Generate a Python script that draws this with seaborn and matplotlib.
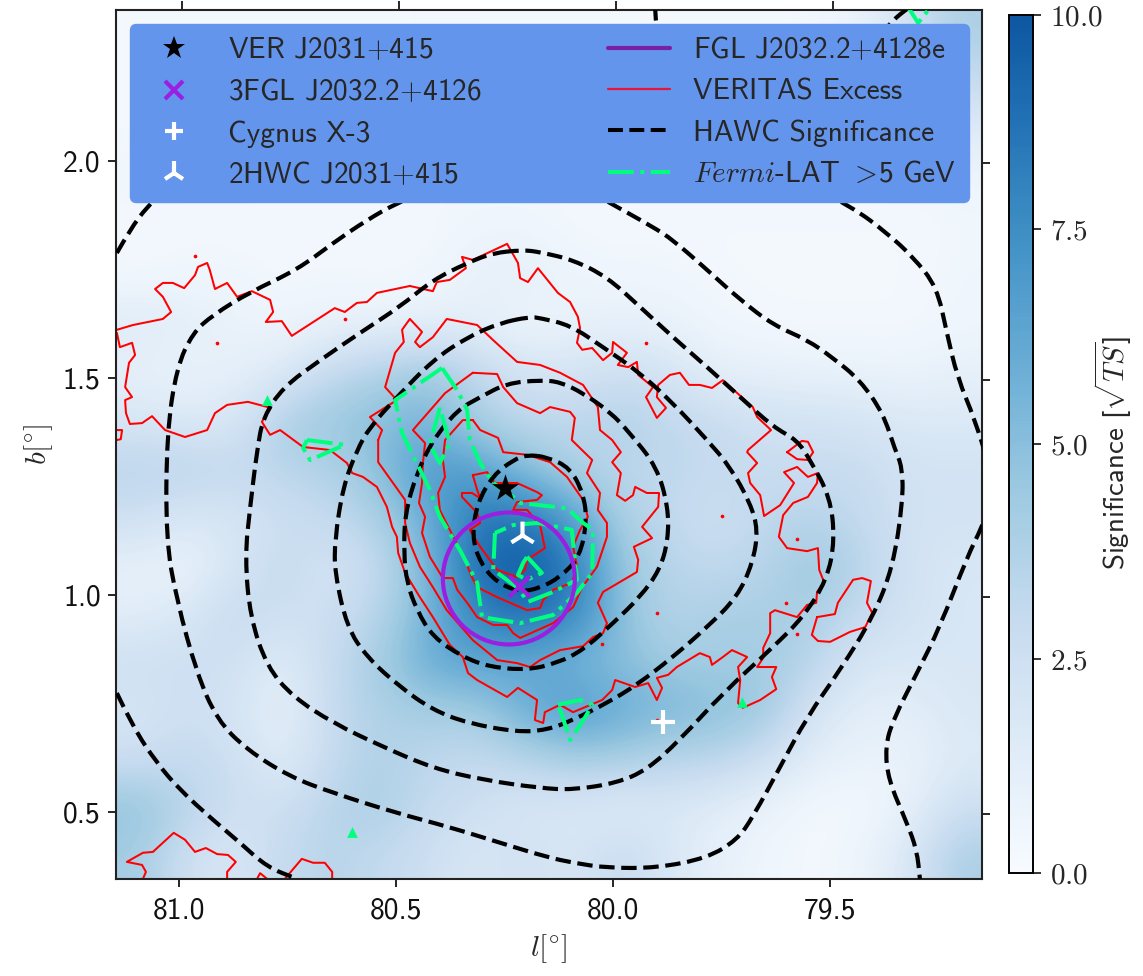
import numpy as np
import seaborn as sns
import matplotlib
matplotlib.use("Agg")
import matplotlib.pyplot as plt
from matplotlib.colors import ListedColormap
from matplotlib.lines import Line2D
from matplotlib.patches import Circle, PathPatch
from matplotlib.path import Path

# ---- significance map (rows from high b to low b, columns from high l to low l)
SIGNIFICANCE = [
 [.3,.3,.3,.3,.2,.2,.4,.3,.3,.2,.2,.3,.2,.2,.4,.8,2.5,4.0],
 [.2,.2,.2,.2,.2,.2,.3,.3,.2,.2,.2,.2,.2,.2,.3,.4,1.0,3.0],
 [.3,.3,.3,.3,.3,.3,.3,.3,.3,.3,.3,.3,.3,.3,.3,.3,.5,1.5],
 [.5,.5,.4,.4,.4,.4,.4,.4,.4,.4,.4,.4,.4,.4,.4,.4,.4,.6],
 [.3,.3,.3,.3,.3,.3,.3,.5,.5,.3,.3,.3,.3,.3,.3,.3,.3,.4],
 [.3,.5,.5,.3,.4,.3,.4,1.0,1.2,.6,.5,.5,.3,.3,.3,.3,.3,.5],
 [1.5,1.2,.8,.6,.8,.8,1.0,1.0,.5,.8,1.0,.8,.5,.3,.3,.3,.3,.5],
 [1.0,.8,1.0,1.5,3.0,3.8,4.5,3.2,2.0,2.0,2.5,2.0,1.0,1.0,.8,.8,.7,1.0],
 [1.8,1.5,1.8,4.0,4.5,5.0,5.5,4.0,3.2,3.2,3.8,3.2,2.8,2.2,2.2,2.0,1.6,1.6],
 [3.5,3.5,3.0,3.5,3.8,5.0,7.0,6.5,5.0,3.8,3.2,3.2,3.0,2.8,2.8,2.8,2.2,2.2],
 [2.5,1.8,2.0,2.5,3.0,4.0,6.0,8.5,8.5,6.5,4.0,3.0,2.5,3.2,3.5,3.0,2.2,2.2],
 [1.0,.6,2.0,3.0,2.0,3.0,5.5,9.0,10.0,8.5,4.5,3.5,3.0,3.5,4.5,3.5,2.2,1.8],
 [1.2,1.8,3.0,2.5,2.5,3.5,5.5,8.0,9.0,8.0,5.0,3.5,4.0,4.0,4.0,3.0,2.2,1.8],
 [2.5,2.5,2.5,1.2,3.0,4.2,6.0,6.5,6.0,5.5,5.0,4.2,4.2,4.2,3.5,1.8,1.8,1.8],
 [2.0,2.5,2.0,.9,3.0,3.8,4.2,4.2,6.0,7.0,6.0,5.5,5.0,4.5,2.0,1.2,1.2,1.8],
 [2.5,3.0,2.5,1.2,3.0,3.8,3.2,3.0,3.5,4.2,4.2,3.5,3.5,2.5,1.2,.8,.8,1.5],
 [4.8,3.5,2.5,2.5,3.5,4.0,3.0,2.5,1.8,1.8,1.2,1.8,1.2,.8,.3,.3,.9,2.5],
 [4.2,2.4,1.8,3.0,3.5,3.0,2.5,1.8,2.4,1.8,3.0,1.8,1.0,.5,.3,.6,1.8,4.0],
]

# ---- HAWC significance contours
HAWC_1_L = [80.198,80.152,80.099,80.069,80.060,80.076,80.122,80.168,80.214,80.267,80.306,80.325,80.313,80.276,80.230,80.198]
HAWC_1_B = [1.323,1.318,1.293,1.235,1.173,1.088,1.041,1.016,1.007,1.028,1.074,1.134,1.212,1.276,1.311,1.323]
HAWC_2_L = [80.168,80.122,80.069,80.007,79.961,79.899,79.873,79.873,79.892,79.938,80.000,80.069,80.129,80.198,80.283,80.346,80.415,80.452,80.475,80.482,80.479,80.452,80.415,80.359,80.306,80.244,80.168]
HAWC_2_B = [1.495,1.491,1.465,1.422,1.373,1.295,1.203,1.127,1.058,0.995,0.935,0.873,0.843,0.827,0.834,0.857,0.903,0.965,1.028,1.097,1.189,1.281,1.357,1.426,1.456,1.488,1.495]
HAWC_3_L = [80.191,80.260,80.336,80.415,80.498,80.560,80.590,80.622,80.641,80.641,80.613,80.567,80.491,80.415,80.336,80.221,80.152,80.092,80.014,79.945,79.862,79.783,79.714,79.678,79.666,79.684,79.730,79.783,79.862,79.938,80.023,80.099,80.168,80.191]
HAWC_3_B = [1.641,1.627,1.594,1.541,1.456,1.387,1.334,1.249,1.127,1.051,0.926,0.857,0.788,0.735,0.705,0.684,0.689,0.712,0.751,0.793,0.857,0.926,0.995,1.074,1.150,1.212,1.295,1.357,1.442,1.512,1.571,1.622,1.638,1.641]
HAWC_4_L = [80.207,80.277,80.336,80.415,80.491,80.583,80.675,80.760,80.806,80.820,80.836,80.848,80.836,80.797,80.737,80.645,80.530,80.415,80.300,80.168,80.092,79.991,79.922,79.846,79.747,79.631,79.562,79.507,79.489,79.500,79.546,79.576,79.631,79.707,79.783,79.862,79.938,80.014,80.092,80.168,80.207]
HAWC_4_B = [1.795,1.788,1.765,1.726,1.664,1.604,1.541,1.479,1.410,1.334,1.203,1.088,0.949,0.834,0.765,0.705,0.650,0.601,0.574,0.555,0.551,0.567,0.597,0.666,0.774,0.880,0.949,1.035,1.127,1.226,1.311,1.357,1.387,1.456,1.525,1.594,1.664,1.733,1.772,1.790,1.795]
HAWC_5_L = [80.214,80.376,80.498,80.567,80.645,80.728,80.836,80.922,80.968,81.005,81.028,81.030,81.005,80.959,80.912,80.843,80.744,80.645,80.507,80.376,80.260,80.152,80.092,80.014,79.899,79.783,79.714,79.678,79.615,79.553,79.477,79.401,79.355,79.332,79.334,79.350,79.378,79.431,79.493,79.553,79.631,79.707,79.783,79.862,79.908,80.007,80.099,80.214]
HAWC_5_B = [1.991,1.956,1.903,1.864,1.811,1.749,1.698,1.645,1.604,1.525,1.373,1.127,0.988,0.820,0.712,0.643,0.581,0.544,0.500,0.465,0.429,0.396,0.383,0.371,0.371,0.394,0.436,0.488,0.604,0.719,0.827,0.949,1.065,1.219,1.295,1.334,1.419,1.495,1.546,1.588,1.622,1.680,1.749,1.818,1.848,1.903,1.956,1.991]
HAWC_6A_L = [81.143,81.113,81.074,81.021]
HAWC_6A_B = [1.788,1.841,1.894,1.945]
HAWC_6B_L = [79.903,79.903,79.880,79.777,79.615,79.449,79.369,79.309,79.254,79.231,79.207,79.166,79.131,79.127,79.150,79.184,79.247,79.300,79.355,79.373,79.366,79.323,79.300,79.293]
HAWC_6B_B = [2.359,2.318,2.210,2.083,1.979,1.894,1.834,1.779,1.710,1.604,1.502,1.403,1.288,1.219,1.157,1.088,0.926,0.820,0.712,0.650,0.574,0.475,0.412,0.346]
HAWC_6C_L = [81.143,81.106,81.051,80.998,80.922,80.859,80.797,80.728]
HAWC_6C_B = [0.774,0.696,0.613,0.551,0.482,0.429,0.373,0.346]
HAWC_6D_L = [79.385,79.355,79.323]
HAWC_6D_B = [2.290,2.325,2.350]

# ---- VERITAS excess contours
VER_1_L = [81.143,81.106,81.037,81.018,81.037,81.055,81.037,81.014,80.988,80.963,80.956,80.935,80.929,80.917,80.889,80.866,80.832,80.790,80.783,80.800,80.763,80.740,80.641,80.618,80.590,80.567,80.544,80.468,80.415,80.406,80.376,80.339,80.348,80.323,80.244,80.219,80.214,80.196,80.173,80.127,80.099,80.081,80.076,80.083,80.071,80.048,80.023,80.002,80.000,79.968,79.989,79.965,79.945,79.942,79.908,79.924,79.899,79.878,79.899,79.896,79.869,79.846,79.825,79.800,79.772,79.747,79.678,79.668,79.636,79.689,79.691,79.668,79.689,79.684,79.661,79.652,79.615,79.583,79.606,79.576,79.551,79.528,79.530,79.551,79.585,79.608,79.618,79.599,79.553,79.528,79.525,79.514,79.530,79.532,79.553,79.576,79.627,79.638,79.638,79.654,79.654,79.668,79.624,79.634,79.624,79.661,79.701,79.712,79.707,79.712,79.691,79.726,79.747,79.772,79.777,79.800,79.853,79.873,79.899,79.887,79.899,79.919,79.949,79.995,80.002,80.025,80.092,80.122,80.157,80.161,80.180,80.175,80.219,80.244,80.313,80.334,80.346,80.376,80.415,80.445,80.479,80.495,80.498,80.509,80.521,80.544,80.576,80.601,80.613,80.652,80.714,80.767,80.790,80.809,80.788,80.841,80.889,80.917,80.935,80.986,81.032,81.062,81.085,81.113,81.122,81.124,81.108,81.124,81.115,81.101,81.108,81.136,81.143]
VER_1_B = [1.611,1.622,1.636,1.652,1.687,1.705,1.719,1.719,1.707,1.737,1.756,1.765,1.749,1.705,1.719,1.687,1.700,1.680,1.652,1.629,1.631,1.597,1.661,1.652,1.673,1.675,1.696,1.712,1.700,1.721,1.726,1.753,1.779,1.772,1.809,1.765,1.730,1.721,1.753,1.696,1.675,1.641,1.615,1.581,1.565,1.569,1.541,1.558,1.583,1.558,1.530,1.525,1.537,1.507,1.479,1.456,1.408,1.431,1.456,1.484,1.507,1.512,1.484,1.484,1.477,1.495,1.433,1.410,1.380,1.334,1.329,1.304,1.281,1.258,1.230,1.182,1.207,1.258,1.283,1.295,1.272,1.281,1.258,1.226,1.212,1.184,1.134,1.108,1.101,1.108,1.058,1.030,1.007,0.982,0.977,0.949,0.965,0.958,0.912,0.878,0.855,0.834,0.834,0.811,0.783,0.758,0.740,0.751,0.804,0.834,0.857,0.873,0.857,0.839,0.857,0.866,0.834,0.816,0.809,0.786,0.758,0.797,0.788,0.804,0.781,0.758,0.730,0.747,0.730,0.705,0.712,0.758,0.786,0.765,0.804,0.820,0.857,0.885,0.949,0.995,1.051,1.097,1.134,1.157,1.203,1.249,1.272,1.281,1.304,1.334,1.341,1.380,1.369,1.399,1.431,1.445,1.438,1.419,1.380,1.364,1.380,1.412,1.396,1.394,1.419,1.449,1.456,1.479,1.535,1.553,1.581,1.571,1.604]
VER_2_L = [80.541,80.541,80.479,80.479,80.468,80.445,80.415,80.383,80.323,80.267,80.221,80.191,80.168,80.122,80.069,80.046,80.023,80.014,80.035,80.023,79.945,79.942,79.952,79.910,79.933,79.896,79.894,79.922,79.949,79.954,79.972,79.991,79.982,80.002,79.982,80.002,80.030,80.035,80.069,80.122,80.168,80.221,80.277,80.313,80.383,80.415,80.445,80.456,80.440,80.468,80.486,80.482,80.502,80.525,80.498,80.560,80.532,80.541]
VER_2_B = [1.357,1.306,1.219,1.166,1.120,1.065,1.018,0.965,0.896,0.850,0.843,0.834,0.850,0.873,0.882,0.903,0.912,0.935,0.982,1.007,1.053,1.081,1.111,1.131,1.157,1.203,1.235,1.235,1.249,1.230,1.217,1.230,1.281,1.306,1.329,1.357,1.380,1.433,1.484,1.512,1.530,1.537,1.588,1.622,1.636,1.594,1.571,1.583,1.606,1.636,1.611,1.583,1.558,1.479,1.449,1.410,1.380,1.357]
VER_3_L = [80.323,80.267,80.253,80.221,80.168,80.145,80.099,80.088,80.095,80.048,80.060,80.030,80.035,80.014,80.014,80.037,80.071,80.092,80.138,80.214,80.230,80.244,80.276,80.313,80.336,80.359,80.369,80.392,80.422,80.440,80.433,80.447,80.440,80.438,80.433,80.461,80.387,80.323]
VER_3_B = [1.512,1.509,1.479,1.442,1.419,1.433,1.422,1.408,1.357,1.311,1.281,1.235,1.196,1.166,1.134,1.065,1.018,0.972,0.935,0.901,0.912,0.931,0.931,0.949,0.982,1.012,1.039,1.039,1.088,1.143,1.180,1.212,1.258,1.304,1.350,1.380,1.465,1.512]
VER_4_L = [80.323,80.306,80.265,80.253,80.198,80.145,80.106,80.069,80.058,80.076,80.092,80.083,80.095,80.138,80.161,80.168,80.198,80.237,80.267,80.313,80.325,80.348,80.376,80.399,80.403,80.387,80.392,80.387,80.346,80.323]
VER_4_B = [1.403,1.380,1.362,1.329,1.323,1.306,1.272,1.219,1.180,1.150,1.111,1.065,1.028,1.012,0.988,0.970,0.965,0.982,0.995,1.018,1.041,1.097,1.150,1.196,1.235,1.272,1.311,1.357,1.403,1.403]
VER_5_L = [80.323,80.290,80.272,80.221,80.175,80.164,80.175,80.221,80.230,80.198,80.168,80.157,80.198,80.203,80.221,80.267,80.306,80.330,80.306,80.313,80.348,80.348,80.325,80.306,80.313,80.323]
VER_5_B = [1.276,1.283,1.258,1.258,1.237,1.230,1.219,1.214,1.196,1.196,1.161,1.108,1.081,1.058,1.041,1.058,1.111,1.150,1.166,1.189,1.226,1.235,1.235,1.223,1.242,1.276]
VER_6_L = [79.530,79.489,79.482,79.447,79.426,79.406,79.415,79.403,79.419,79.454,79.500,79.528,79.542,79.530]
VER_6_B = [0.949,0.956,0.982,1.035,1.039,1.032,0.982,0.959,0.926,0.915,0.892,0.894,0.908,0.949]
VER_7_L = [79.599,79.565,79.551,79.539,79.551,79.576,79.599]
VER_7_B = [1.329,1.355,1.353,1.329,1.311,1.313,1.329]
VER_8_L = [81.083,81.076,81.085,81.120,81.083,81.060,81.012,80.986,80.963,80.938,80.912,80.887,80.869,80.889,80.889]
VER_8_B = [0.346,0.362,0.378,0.385,0.406,0.408,0.452,0.436,0.408,0.417,0.403,0.401,0.385,0.362,0.346]
VER_9_L = [80.820,80.813,80.797]
VER_9_B = [0.346,0.359,0.346]
VER_10_L = [80.756,80.717,80.691,80.664,80.647,80.647]
VER_10_B = [0.346,0.392,0.383,0.383,0.362,0.346]
VER_11_L = [81.143,81.131,81.134,81.143]
VER_11_B = [1.380,1.380,1.359,1.357]
VER_SPOT_L = [80.963,80.912,80.618,79.924,79.749,79.576,79.899,79.601,79.576,80.025,79.899]
VER_SPOT_B = [1.781,1.581,1.636,1.581,1.182,1.129,0.959,0.982,0.910,0.887,0.712]

# ---- Fermi-LAT contours
LAT_1_L = [80.394,80.502,80.486,80.452,80.422,80.399,80.353,80.313,80.302,80.214,80.138,80.083,80.048,80.046,80.069,80.106,80.214,80.230,80.276,80.306,80.330,80.336,80.359,80.394]
LAT_1_B = [1.523,1.449,1.373,1.304,1.242,1.180,1.104,1.028,0.949,0.935,0.954,1.005,1.051,1.150,1.166,1.200,1.212,1.226,1.258,1.304,1.357,1.426,1.472,1.523]
LAT_2_L = [80.272,80.276,80.219,80.196,80.138,80.083,80.088,80.095,80.129,80.175,80.230,80.272]
LAT_2_B = [1.143,1.058,1.016,0.984,1.007,1.035,1.081,1.150,1.157,1.166,1.161,1.143]
LAT_3_L = [80.198,80.164,80.198,80.219,80.207,80.198]
LAT_3_B = [1.088,1.051,1.035,1.046,1.074,1.088]
LAT_4_L = [80.399,80.422,80.399,80.376,80.399]
LAT_4_B = [1.431,1.346,1.304,1.350,1.431]
LAT_5_L = [80.705,80.618,80.698,80.714,80.705]
LAT_5_B = [1.357,1.346,1.311,1.339,1.357]
LAT_6_L = [80.127,80.076,80.048,80.065,80.099,80.118,80.127]
LAT_6_B = [0.747,0.758,0.747,0.717,0.666,0.724,0.747]
LAT_7_L = [79.323,79.297,79.265]
LAT_7_B = [2.359,2.318,2.359]
LAT_SPOT_L = [80.797,80.601,79.703]
LAT_SPOT_B = [1.449,0.454,0.753]

# ---- sources
VER_SRC = (80.249, 1.247)
FGL3_SRC = (80.217, 1.021)
CYG_SRC = (79.885, 0.707)
HWC_SRC = (80.210, 1.138)
FGL_EXT = (80.240, 1.038, 0.152)

LEGEND_LABELS = ["VER J2031${+}$415", "3FGL J2032.2${+}$4126", "Cygnus X-3", "2HWC J2031${+}$415",
                 "FGL J2032.2${+}$4128e", "VERITAS Excess", "HAWC Significance", r"$Fermi$-LAT ${>}\!$5 GeV"]
X_TICKS = [81.0, 80.5, 80.0, 79.5]
Y_TICKS = [0.5, 1.0, 1.5, 2.0]
CBAR_TICKS = [0.0, 2.5, 5.0, 7.5, 10.0]
XLIM = (81.145, 79.15)
YLIM = (0.3456, 2.349)

sns.set_style("white")
plt.rcParams["font.family"] = ["cmss10", "DejaVu Sans"]
plt.rcParams["mathtext.fontset"] = "cm"
plt.rcParams["axes.unicode_minus"] = False
plt.rcParams["axes.formatter.use_mathtext"] = False

W, H = 1143, 976
FS = 21.3
fig = plt.figure(figsize=(W / 100, H / 100), dpi=100)
ax = fig.add_axes([116 / W, 1 - 879 / H, (982 - 116) / W, (879 - 9.5) / H])
cmap = ListedColormap(plt.get_cmap("Blues")(np.linspace(0, 0.85, 256)))
im = ax.imshow(SIGNIFICANCE, extent=(XLIM[0], XLIM[1], YLIM[0], YLIM[1]), origin="upper", cmap=cmap,
               vmin=0, vmax=10, interpolation="bicubic", aspect="auto", zorder=0)


def trace(l, b, **kw):
    sns.lineplot(x=l, y=b, sort=False, estimator=None, ax=ax, legend=False, **kw)


def smooth_contour(l, b, **kw):
    pts = np.column_stack([l, b])
    closed = np.allclose(pts[0], pts[-1])
    if closed:
        pts = np.vstack([pts, pts[1]])
    mids = (pts[:-1] + pts[1:]) / 2
    start = mids[0] if closed else pts[0]
    verts, codes = [start], [Path.MOVETO]
    for i in range(1, len(pts) - 1):
        verts += [pts[i], mids[i]]
        codes += [Path.CURVE3, Path.CURVE3]
    if not closed:
        verts.append(pts[-1])
        codes.append(Path.LINETO)
    ax.add_patch(PathPatch(Path(verts, codes), fill=False, **kw))


RED = dict(color="#ff0000", lw=1.45, zorder=2)
for l, b in [(VER_1_L, VER_1_B), (VER_2_L, VER_2_B), (VER_3_L, VER_3_B), (VER_4_L, VER_4_B), (VER_5_L, VER_5_B),
             (VER_6_L, VER_6_B), (VER_7_L, VER_7_B), (VER_8_L, VER_8_B), (VER_9_L, VER_9_B), (VER_10_L, VER_10_B),
             (VER_11_L, VER_11_B)]:
    trace(l, b, **RED)
sns.scatterplot(x=VER_SPOT_L, y=VER_SPOT_B, color="#ff0000", s=7, linewidth=0, ax=ax, zorder=2, legend=False)

BLACK = dict(edgecolor="black", lw=3.0, linestyle="--", zorder=3)
for l, b in [(HAWC_1_L, HAWC_1_B), (HAWC_2_L, HAWC_2_B), (HAWC_3_L, HAWC_3_B), (HAWC_4_L, HAWC_4_B),
             (HAWC_5_L, HAWC_5_B), (HAWC_6A_L, HAWC_6A_B), (HAWC_6B_L, HAWC_6B_B), (HAWC_6C_L, HAWC_6C_B),
             (HAWC_6D_L, HAWC_6D_B)]:
    smooth_contour(l, b, **BLACK)

GREEN = dict(color="#00ff7f", lw=2.9, linestyle="-.", zorder=4)
for l, b in [(LAT_1_L, LAT_1_B), (LAT_2_L, LAT_2_B), (LAT_3_L, LAT_3_B), (LAT_4_L, LAT_4_B), (LAT_5_L, LAT_5_B),
             (LAT_6_L, LAT_6_B), (LAT_7_L, LAT_7_B)]:
    trace(l, b, **GREEN)
sns.scatterplot(x=LAT_SPOT_L, y=LAT_SPOT_B, color="#00ff7f", s=60, marker="^", linewidth=0, ax=ax, zorder=4, legend=False)

ax.add_patch(Circle(FGL_EXT[:2], FGL_EXT[2], fill=False, edgecolor="#9a1fe0", lw=3, zorder=5))
sns.scatterplot(x=[VER_SRC[0]], y=[VER_SRC[1]], marker="*", s=420, color="black", linewidth=0, ax=ax, zorder=6, legend=False)
sns.scatterplot(x=[FGL3_SRC[0]], y=[FGL3_SRC[1]], marker="x", s=220, color="#9a1fe0", linewidth=3, ax=ax, zorder=6, legend=False)
sns.scatterplot(x=[CYG_SRC[0]], y=[CYG_SRC[1]], marker="+", s=300, color="white", linewidth=3, ax=ax, zorder=6, legend=False)
sns.scatterplot(x=[HWC_SRC[0]], y=[HWC_SRC[1]], marker="2", s=400, color="white", linewidth=3, ax=ax, zorder=6, legend=False)

ax.set_xlim(*XLIM)
ax.set_ylim(*YLIM)
ax.set_xticks(X_TICKS)
ax.set_yticks(Y_TICKS)
ax.set_xticklabels([f"{v:.1f}" for v in X_TICKS])
ax.set_yticklabels([f"{v:.1f}" for v in Y_TICKS])
ax.tick_params(axis="x", length=6, width=1.4, labelsize=FS, direction="out", bottom=True, pad=7, labelcolor="#111111")
ax.tick_params(axis="y", length=6, width=1.4, labelsize=FS, direction="out", left=True, pad=5, labelcolor="#111111")
ax.set_xlabel(r"$l[^{\circ}]$", fontsize=FS, labelpad=6)
ax.set_ylabel(r"$b[^{\circ}]$", fontsize=FS, labelpad=6)
for s in ax.spines.values():
    s.set_linewidth(1.5)
    s.set_color("#222222")
    s.set_visible(True)

# slightly offset top and right tick marks, as in the source projection
top = ax.secondary_xaxis("top")
top.set_xticks([v - 0.006 for v in X_TICKS])
top.set_xticklabels([])
top.tick_params(length=6, width=1.4, direction="out")
top.spines["top"].set_visible(False)
right = ax.secondary_yaxis("right")
right.set_yticks([v - 0.005 for v in Y_TICKS])
right.set_yticklabels([])
right.tick_params(length=6, width=1.4, direction="out")
right.spines["right"].set_visible(False)

handles = [
    Line2D([], [], marker="*", ls="", color="black", ms=17, mew=0),
    Line2D([], [], marker="x", ls="", color="#9a1fe0", ms=13, mew=3),
    Line2D([], [], marker="+", ls="", color="white", ms=13, mew=3),
    Line2D([], [], marker="2", ls="", color="white", ms=17, mew=3),
    Line2D([], [], color="#7a1fa8", lw=3),
    Line2D([], [], color="#e8153a", lw=1.6),
    Line2D([], [], color="black", lw=2.9, ls="--"),
    Line2D([], [], color="#00ff7f", lw=2.9, ls="-."),
]
leg = ax.legend(handles, LEGEND_LABELS, ncol=2, loc="upper left", bbox_to_anchor=(14 / 866, 1 - 14.5 / 869.5),
                bbox_transform=ax.transAxes, fontsize=21.1, frameon=True, facecolor="#6495ED", edgecolor="#6495ED",
                framealpha=1, handlelength=2.14, handletextpad=0.78, columnspacing=4.3, labelspacing=0.48,
                borderpad=0.42, borderaxespad=0.0, fancybox=True)
leg.set_zorder(10)

cax = fig.add_axes([1009 / W, 1 - 873 / H, 24 / W, (873 - 15) / H])
cb = fig.colorbar(im, cax=cax)
cb.set_ticks(CBAR_TICKS)
cb.set_ticklabels([f"${v:.1f}$" for v in CBAR_TICKS])
cb.ax.tick_params(labelsize=21, length=6, width=1.3, direction="out", right=True, pad=6)
cb.outline.set_linewidth(1.4)
cb.outline.set_edgecolor("black")
cb.set_label(r"Significance [$\sqrt{TS}$]", fontsize=20.8, labelpad=-7, y=0.49)

fig.savefig("out.png", dpi=100)
